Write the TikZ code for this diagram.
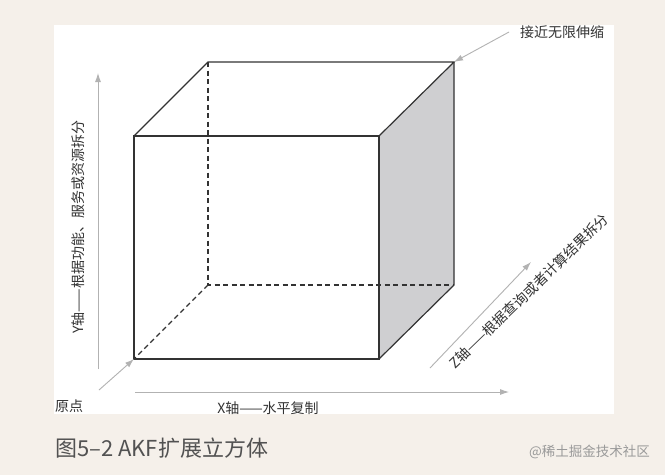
\documentclass[tikz,border=0pt]{standalone}
\usepackage{fontspec}
\newfontfamily\cjk{Noto Sans CJK SC}
\usetikzlibrary{arrows.meta}
\definecolor{paper}{HTML}{F5F0EA}
\definecolor{side}{HTML}{CFCFD1}
\definecolor{axisgray}{HTML}{B2B2B2}
\definecolor{ink}{HTML}{333333}
\tikzset{ cube/.style = { draw = ink
                        , line width = 1.2pt
                        , line join  = miter
                        },
          hidden/.style = { cube
                          , dash pattern = on 5pt off 3.5pt
                          },
          axis/.style = { draw = axisgray
                        , line width = 0.9pt
                        , -{Latex[length=9pt, width=6pt]}
                        },
          lbl/.style = { text      = ink
                       , font      = \cjk\fontsize{14}{14}\selectfont
                       , inner sep = 0pt
                       }
        }

\begin{document}
\begin{tikzpicture}[x=1pt, y=-1pt]
  \fill[paper] (0,0) rectangle (665,475);
  \useasboundingbox (0,0) rectangle (665,475);
  \fill[white] (54,25) rectangle (614,414);
  % cube corners, front face f, back face b
  \coordinate (f1) at (134,359);
  \coordinate (f2) at (379,359);
  \coordinate (f3) at (379,136);
  \coordinate (f4) at (134,136);
  \coordinate (b1) at (208,285);
  \coordinate (b2) at (454,285);
  \coordinate (b3) at (454,62);
  \coordinate (b4) at (208,62);
  \fill[side] (f2) -- (f3) -- (b3) -- (b2) -- cycle;
  \draw[hidden] (b4) -- (b1) -- (b2);
  \draw[hidden] (b1) -- (f1);
  \draw[cube] (f1) -- (f2) -- (f3) -- (f4) -- cycle;
  \draw[cube] (f4) -- (b4) -- (b3) -- (f3);
  \draw[cube] (b3) -- (b2) -- (f2);
  % axes
  \node[lbl] (origin) at (69,406) {原点};
  \coordinate (otail) at (99,390);
  \draw[axis] (otail) -- (f1);
  \coordinate (ytail) at (98,369);
  \coordinate (yhead) at (98,73);
  \draw[axis] (ytail) -- (yhead);
  \node[lbl, rotate=90] (ylbl) at (78,227) {Y轴——根据功能、服务或资源拆分};
  \coordinate (xtail) at (135,392);
  \coordinate (xhead) at (509,392);
  \draw[axis] (xtail) -- (xhead);
  \node[lbl] (xlbl) at (268,408) {X轴——水平复制};
  \coordinate (ztail) at (430,368);
  \coordinate (zhead) at (531,262);
  \draw[axis] (ztail) -- (zhead);
  \node[lbl, rotate=44] (zlbl) at (529,291) {Z轴——根据查询或者计算结果拆分};
  \node[lbl, anchor=west] (far) at (520,32) {接近无限伸缩};
  \coordinate (ftail) at (509,32);
  \draw[axis] (ftail) -- (b3);
  % caption
  \node[anchor=west, inner sep=0pt, text=ink!85, font=\cjk\fontsize{22}{22}\selectfont] (caption) at (55,448) {图5–2 AKF扩展立方体};
  \node[anchor=east, inner sep=0pt, text=black!40, font=\cjk\fontsize{13.5}{13.5}\selectfont] (mark) at (650,452) {@稀土掘金技术社区};
\end{tikzpicture}
\end{document}
